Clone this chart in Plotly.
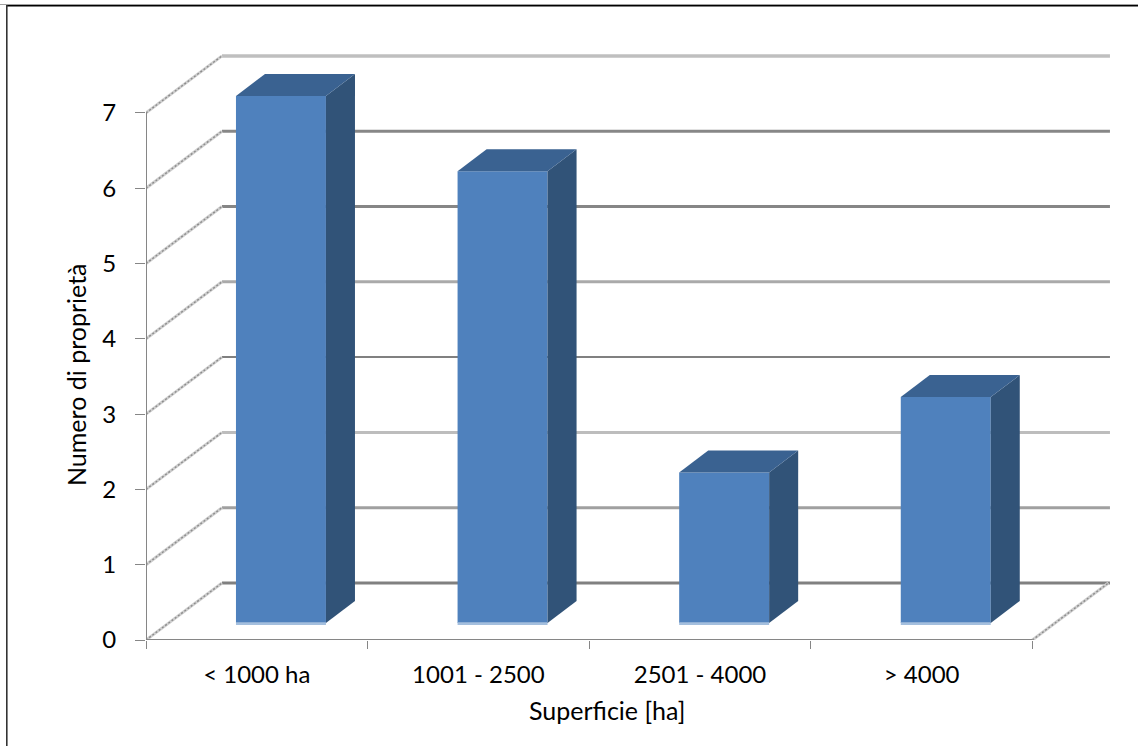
import plotly.graph_objects as go

categories = ["< 1000 ha", "1001 - 2500", "2501 - 4000", "> 4000"]
values = [7, 6, 2, 3]
y_ticks = [0, 1, 2, 3, 4, 5, 6, 7]
x_title = "Superficie [ha]"
y_title = "Numero di proprietà"

# pseudo-3D styling
W, H = 1138, 746
ML, MB = 146, 106
PX_X, PX_Y = 221.6, 75.3
BAR_L, BAR_W = 0.406, 0.406
BAR_BASE = 0.226
BAR_DX, BAR_DY = 0.131, 0.292
WALL_DX, WALL_DY = 0.343, 0.757
GRID_END = 4.35
GRID_COLORS = ["#808080", "#a0a0a0", "#bdbdbd", "#808080", "#aaaaaa", "#868686", "#878787", "#bfbfbf"]
GRID_WIDTHS = [3, 3, 3, 2, 3, 3, 3, 3.5]
FRONT, TOP, SIDE, EDGE = "#4f81bd", "#3a6291", "#315378", "#a4bfde"
AXIS = "#868686"
FONT = "Lato"
TEXT = "#000000"
TICK_SIZE, TITLE_SIZE = 24, 25

fig = go.Figure()

# front faces
fig.add_trace(go.Bar(
    x=[i + BAR_L + BAR_W / 2 for i in range(len(values))], y=values,
    base=BAR_BASE, width=BAR_W, marker=dict(color=FRONT, line=dict(width=0)),
    showlegend=False, hoverinfo="skip"))
# light bottom strip
fig.add_trace(go.Bar(
    x=[i + BAR_L + BAR_W / 2 for i in range(len(values))], y=[0.036] * len(values),
    base=BAR_BASE - 0.026, width=BAR_W, marker=dict(color=EDGE, line=dict(width=0)),
    showlegend=False, hoverinfo="skip"))

# side and top faces
for i, v in enumerate(values):
    l = i + BAR_L
    r = l + BAR_W
    b = BAR_BASE
    t = b + v
    fig.add_trace(go.Scatter(
        x=[r, r + BAR_DX, r + BAR_DX, r, r], y=[b, b + BAR_DY, t + BAR_DY, t, b],
        mode="lines", fill="toself", fillcolor=SIDE, line=dict(width=0),
        showlegend=False, hoverinfo="skip"))
    fig.add_trace(go.Scatter(
        x=[l, l + BAR_DX, r + BAR_DX, r, l], y=[t, t + BAR_DY, t + BAR_DY, t, t],
        mode="lines", fill="toself", fillcolor=TOP, line=dict(width=0),
        showlegend=False, hoverinfo="skip"))

# side-wall depth lines (dithered look) and floor right edge
for x0, v in [(0, t) for t in y_ticks] + [(len(values), 0)]:
    for col, w, dash in [("#cfcfcf", 3, "solid"), ("#8c8c8c", 1.4, "2px,2px")]:
        fig.add_trace(go.Scatter(
            x=[x0, x0 + WALL_DX], y=[v, v + WALL_DY], mode="lines",
            line=dict(color=col, width=w, dash=dash), cliponaxis=False,
            showlegend=False, hoverinfo="skip"))

# axis lines
fig.add_trace(go.Scatter(x=[0, len(values)], y=[0, 0], mode="lines",
                         line=dict(color=AXIS, width=2), cliponaxis=False,
                         showlegend=False, hoverinfo="skip"))
fig.add_trace(go.Scatter(x=[0, 0], y=[0, y_ticks[-1]], mode="lines",
                         line=dict(color=AXIS, width=2), cliponaxis=False,
                         showlegend=False, hoverinfo="skip"))

shapes = []
# back wall gridlines, beneath the bars
for lvl, col, w in zip(y_ticks, GRID_COLORS, GRID_WIDTHS):
    shapes.append(dict(type="line", xref="x", yref="y", layer="below",
                       x0=WALL_DX, x1=GRID_END, y0=lvl + WALL_DY, y1=lvl + WALL_DY,
                       line=dict(color=col, width=w)))

pw, ph = W - ML, H - MB
px = lambda p: (p - ML) / pw
py = lambda p: (ph - p) / ph
# outer frame (top and left edges only are visible in the reference)
shapes.append(dict(type="line", xref="paper", yref="paper", x0=px(0), x1=px(W), y0=py(4.5), y1=py(4.5),
                   line=dict(color="#a0a0a0", width=1)))
shapes.append(dict(type="line", xref="paper", yref="paper", x0=px(6), x1=px(W), y0=py(5.8), y1=py(5.8),
                   line=dict(color="#000000", width=1.6)))
shapes.append(dict(type="line", xref="paper", yref="paper", x0=px(6.8), x1=px(6.8), y0=py(5), y1=py(H),
                   line=dict(color="#333333", width=1.6)))

annotations = [
    dict(text=x_title, xref="paper", yref="paper", x=px(607), y=py(710), showarrow=False,
         xanchor="center", yanchor="middle", font=dict(family=FONT, size=TITLE_SIZE, color=TEXT)),
    dict(text=y_title, xref="paper", yref="paper", x=px(76), y=py(375), showarrow=False, textangle=-90,
         xanchor="center", yanchor="middle", font=dict(family=FONT, size=TITLE_SIZE, color=TEXT)),
]

fig.update_layout(
    width=W, height=H, margin=dict(l=ML, r=0, t=0, b=MB, pad=0, autoexpand=False),
    paper_bgcolor="white", plot_bgcolor="white", showlegend=False, hovermode=False,
    barmode="overlay", shapes=shapes, annotations=annotations,
    xaxis=dict(range=[0, pw / PX_X], tickmode="array",
               tickvals=[i + 0.5 for i in range(len(categories))], ticktext=categories,
               ticks="", showgrid=False, zeroline=False, showline=False,
               ticklabelstandoff=18, automargin=False,
               tickfont=dict(family=FONT, size=TICK_SIZE, color=TEXT),
               minor=dict(tickmode="array", tickvals=list(range(len(categories) + 1)),
                          ticks="outside", ticklen=8, tickwidth=1, tickcolor=AXIS, showgrid=False)),
    yaxis=dict(range=[0, ph / PX_Y], tickmode="array", tickvals=y_ticks,
               ticktext=[str(t) for t in y_ticks], ticks="outside", ticklen=10,
               tickwidth=1, tickcolor=AXIS, showgrid=False, zeroline=False, showline=False,
               ticklabelstandoff=14, automargin=False,
               tickfont=dict(family=FONT, size=TICK_SIZE, color=TEXT)),
)

fig.write_html("out.html", config=dict(displayModeBar=False),
               post_script="document.body.style.margin='0';document.documentElement.style.overflow='hidden';")
